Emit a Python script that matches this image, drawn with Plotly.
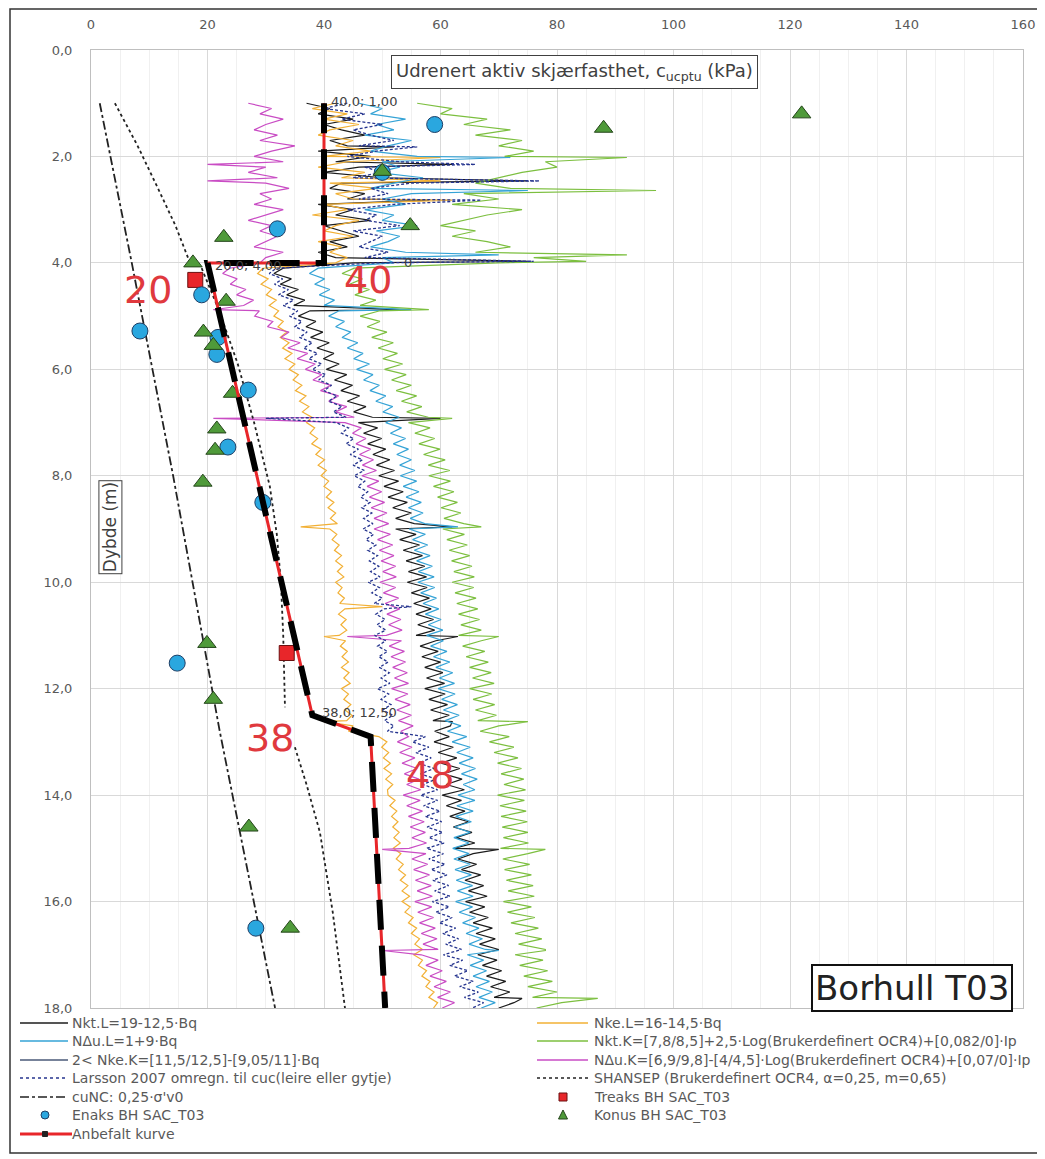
import plotly.graph_objects as go

# ---------------- data ----------------
DEPTH = [round(1.0 + 0.1 * i, 2) for i in range(171)]  # 1.0 .. 18.0 m

# Nkt.L (black)
nkt_l = ([37,41,39,45,40,43,47,41,44,39,48,42,46,40,50,43,41,47,44,39,45,42,48,40,43,46,41,44,39,42,45]
         + [33.0,31.4,34.4,32.5,35.6,33.6,36.7,34.8,37.6]
         + [35.6,38.6,36.9,39.8,37.7,40.9,38.8,41.7,39.9,42.6]
         + [40.4,43.9,41.8,44.9,42.9,46.1,44.0,47.2,45.1,48.3]
         + [45.9,49.2,46.8,49.9,47.5,50.6,48.4,51.3,49.0,52.1]
         + [49.4,52.8,50.3,53.6,51.0,54.3,51.8,55.0,52.3,55.5]
         + [52.3,55.8,53.0,56.4,53.6,56.9,54.1,57.3,54.5,57.6]
         + [54.3,57.7,55.0,58.1,55.4,58.4,55.8,58.8,56.1,59.0]
         + [55.8,59.2,56.5,59.6,56.8,60.0,57.3,60.4,57.6,60.7]
         + [57.3,60.8,58.0,61.2,58.3,61.5,58.7,61.7,59.0]
         + [61.5,58.9,62.2,59.6,62.8,60.1,63.3,60.5,63.7,61.0,64.1]
         + [60.3,63.6,61.0,64.2,61.6,64.8,62.2,65.4,62.7,65.9]
         + [62.3,65.6,63.0,66.2,63.6,66.9,64.2,67.4,64.8,68.0]
         + [64.3,67.6,65.0,68.2,65.6,68.9,66.1,69.4,66.7,70.0]
         + [66.4,69.7,67.2,70.5,67.9,71.2,68.6,71.9,69.2,72.6,70.0])

# Nke.L (orange)
nke_l = ([42,38,44,40,46,41,39,45,42,48,40,44,39,47,43,41,49,42,45,40,44,38,46,42,40,45,39,43,41,44,42]
         + [29.5,28.6,30.4,29.2,31.0,30.1,31.8,30.6,32.2]
         + [31.4,33.0,32.1,33.6,32.5,34.0,32.9,34.5,33.3,35.0]
         + [34.0,35.6,34.7,36.2,35.1,36.9,35.8,37.4,36.3,37.9]
         + [37.0,38.4,37.6,38.9,37.9,39.5,38.6,40.1,39.0,40.4]
         + [39.5,40.8,40.0,41.3,40.4,41.7,40.7,42.0,41.1,42.3]
         + [41.0,42.2,41.4,42.6,41.8,43.0,42.0,43.2,42.3,43.4]
         + [42.0,43.1,42.4,43.5,42.7,43.6,42.5,43.8,42.9,43.9]
         + [42.6,43.7,42.8,44.0,43.1,44.2,43.0,44.3,43.4,44.5]
         + [43.0,44.2,43.4,44.6,43.6,44.8,43.9,45.0,44.2]
         + [49.4,50.8,49.9,51.1,50.2,51.4,50.3,51.6,50.6,51.8,50.9]
         + [51.0,52.2,51.3,52.5,51.6,52.7,51.8,52.9,52.0,53.1]
         + [51.9,53.2,52.4,53.6,52.8,54.0,53.1,54.4,53.4,54.7]
         + [53.4,54.8,53.9,55.3,54.5,55.9,55.0,56.4,55.6,56.9]
         + [55.4,56.9,56.2,57.6,56.8,58.2,57.5,58.9,58.0,59.5,58.8])

# NΔu.L (light blue)
ndu_l = ([46,50,48,54,49,52,47,55,51,48,56,50,53,49,57,52,48,55,50,54,47,52,50,56,49,53,51,48,54,50,52]
         + [39.0,37.5,40.1,38.4,41.0,39.2,41.8,40.0,42.6]
         + [40.8,43.5,42.0,44.6,43.1,45.8,44.0,46.7,45.1,47.8]
         + [45.6,48.4,46.8,49.5,47.9,50.6,48.9,51.8,50.1,52.9]
         + [50.6,53.3,51.4,54.0,51.9,54.5,52.5,55.0,53.0,55.6]
         + [53.1,55.9,53.6,56.3,54.1,56.7,54.5,57.0,54.8,57.3]
         + [54.6,57.4,55.2,57.8,55.5,58.2,55.9,58.6,56.2,58.9]
         + [56.1,59.0,56.6,59.3,57.0,59.7,57.4,60.1,57.9,60.4]
         + [57.6,60.5,58.3,61.1,58.8,61.6,59.2,62.1,59.8,62.4]
         + [59.6,62.5,60.2,62.9,60.5,63.2,60.8,63.5,61.2]
         + [64.5,62.0,65.1,62.8,65.6,63.2,66.0,63.6,66.3,63.9,65.9]
         + [63.0,65.9,62.8,65.6,62.6,65.3,62.4,65.1,62.3,64.9]
         + [62.1,64.9,62.3,65.1,62.5,65.3,62.7,65.5,62.9,65.6]
         + [62.6,65.5,63.2,66.0,63.8,66.6,64.4,67.2,64.9,67.7]
         + [64.6,67.4,65.1,67.9,65.6,68.4,66.1,68.9,66.6,69.4,67.0])

# Nkt.K (green)
nkt_k = ([56,62,60,68,64,72,66,74,70,76,71,78,80,74,70,66,72,64,70,62,74,68,64,60,66,62,68,72,66,76,70]
         + [45.2,43.1,46.6,44.4,47.8,45.3,48.9,46.2,49.6]
         + [46.2,49.6,47.4,50.8,48.2,51.9,49.3,52.6,50.1,53.5]
         + [50.4,54.1,51.6,55.0,52.4,55.9,53.3,56.8,54.2,57.9]
         + [54.5,58.2,55.6,59.0,56.3,59.9,57.1,60.8,57.9,61.6]
         + [58.0,61.7,58.8,62.3,59.5,62.9,60.1,63.5,60.6,64.0]
         + [60.4,64.1,61.1,64.6,61.5,65.0,61.9,65.4,62.3,65.8]
         + [62.0,65.7,62.5,66.1,62.8,66.4,63.1,66.7,63.5,67.0]
         + [63.1,67.0,63.8,67.6,64.4,68.2,65.0,68.7,65.5,69.2]
         + [65.0,68.8,65.6,69.3,66.0,69.6,66.4,70.0,66.8]
         + [71.8,68.4,72.6,69.2,73.3,69.8,73.9,70.4,74.3,70.9,74.6]
         + [69.8,74.4,70.2,74.7,70.4,74.9,70.6,75.0,70.8,75.1]
         + [70.3,75.0,70.7,75.3,71.0,75.6,71.3,75.9,71.6,76.1]
         + [70.8,75.6,71.5,76.2,72.1,76.8,72.8,77.4,73.4,78.0]
         + [72.8,77.6,73.6,78.4,74.3,79.2,75.0,80.0,75.8,80.8,76.5])

# NΔu.K (magenta)
ndu_k = ([27,31,29,33,30,28,32,29,35,31,28,33,30,27,32,30,34,29,31,28,33,30,27,31,29,32,30,28,33,30,29]
         + [23.8,22.6,25.1,23.9,26.6,25.0,27.9,26.2,28.9]
         + [28.1,31.2,30.3,34.0,32.6,35.9,33.8,37.2,35.4,38.5]
         + [36.8,39.6,38.1,41.2,39.4,42.5,40.8,43.9,42.0,45.2]
         + [43.6,46.4,44.9,47.2,45.5,48.0,46.1,48.5,46.6,49.0]
         + [46.5,49.4,47.4,49.9,47.8,50.4,48.1,50.8,48.6,51.1]
         + [48.6,51.4,49.2,51.8,49.5,52.0,49.8,52.3,50.1,52.4]
         + [49.6,52.3,50.2,52.8,50.5,53.0,50.8,53.2,51.1,53.4]
         + [50.7,53.3,51.2,53.8,51.5,54.0,51.8,54.3,52.1,54.5]
         + [51.6,54.4,52.2,54.8,52.5,55.0,52.8,55.3,53.2]
         + [54.5,52.6,55.1,53.0,55.6,53.4,56.0,53.8,56.3,54.2,56.6]
         + [53.6,56.5,54.2,56.9,54.5,57.2,54.8,57.4,55.1,57.6]
         + [54.6,57.5,55.1,57.8,55.4,58.1,55.7,58.4,56.0,58.6]
         + [55.6,58.5,56.1,58.8,56.4,59.1,56.7,59.4,57.0,59.6]
         + [56.7,59.6,57.5,60.3,58.2,61.0,58.9,61.7,59.5,62.4,60.3])

# Larsson 2007 (dark blue dashed)
larsson = ([44,40,47,43,50,45,48,52,46,49,44,53,47,50,45,55,48,51,46,52,44,49,47,53,45,50,48,46,51,47,49]
           + [31.8,30.6,32.9,31.5,33.9,32.2,34.8,33.0,35.5]
           + [34.1,36.2,35.0,37.1,35.8,38.0,36.5,38.9,37.4,39.6]
           + [38.0,40.3,39.1,41.3,40.0,42.2,40.8,43.1,41.6,43.8]
           + [42.1,44.2,43.0,45.1,43.8,45.9,44.5,46.6,45.0,46.9]
           + [45.2,47.0,45.8,47.5,46.3,47.9,46.5,48.2,46.8,48.4]
           + [46.7,48.5,47.2,48.9,47.5,49.2,47.8,49.4,48.0,49.6]
           + [47.6,49.5,48.2,50.0,48.6,50.3,48.9,50.5,49.1,50.6]
           + [48.7,50.6,49.2,50.9,49.4,51.0,49.5,51.2,49.8,51.3]
           + [49.2,51.1,49.8,51.5,50.1,51.8,50.4,52.0,50.9]
           + [57.4,55.2,58.0,55.8,58.4,56.2,58.9,56.6,59.2,57.0,59.5]
           + [56.6,59.5,57.1,59.9,57.4,60.2,57.7,60.4,58.0,60.6]
           + [57.6,60.5,58.0,60.8,58.4,61.1,58.7,61.4,59.0,61.6]
           + [58.6,61.5,59.2,62.0,59.8,62.6,60.4,63.1,60.9,63.6]
           + [60.5,63.8,61.6,64.7,62.4,65.6,63.3,66.5,64.1,67.4,65.5])

# short horizontal excursions (rod breaks) at these depths
SPIKE_DEPTH = [1.82, 2.02, 2.15, 2.46, 2.64, 2.82, 3.85, 3.97, 4.88, 6.92, 8.96, 10.46, 11.02, 12.62, 15.02, 16.92, 17.82]
spk_nkt_l = [52, None, 62, 75, None, 58, None, 75, 53, 60, 62, None, 63, 62, 70, None, 74]
spk_nke_l = [None, 60, None, 60, None, 62, None, None, None, None, 36, 50, 40, 40, None, None, None]
spk_ndu_l = [None, 72, None, None, 75, None, 70, None, 55, None, 63, None, None, None, None, 70, None]
spk_nkt_k = [None, 92, None, None, 97, None, 92, 85, 58, 62, 67, None, 70, 75, 78, 78, 87]
spk_ndu_k = [None, None, 20, 20, None, None, None, None, 21, 21, None, None, 44, None, 50, 50, None]
spk_larsson = [56, None, 66, 77, None, 67, None, 76, None, 30, None, 55, None, None, None, None, None]

# SHANSEP (three layers, gaps between)
shansep_cu = [4.1, 8.0, 11.5, 14.5, 17.0, None, 19.0, 22.0, 25.2, 28.0, 30.7, 31.9, 32.6, 33.0, 33.3, None, 35.0, 37.0, 39.3, 41.5, 43.6]
shansep_z = [1.0, 1.8, 2.6, 3.3, 4.0, None, 4.1, 4.9, 5.9, 7.0, 8.2, 9.1, 10.0, 11.0, 12.35, None, 13.1, 13.8, 14.7, 16.2, 18.0]

# cuNC = 0.25 sigma'v0
cunc_cu = [1.5, 7.0, 14.1, 22.1, 31.6]
cunc_z = [1.0, 4.0, 8.0, 12.8, 18.0]

# lab / cone tests
treaks_cu = [17.9, 33.6]
treaks_z = [4.32, 11.33]
enaks_cu = [59.0, 50.0, 32.0, 19.0, 8.4, 21.8, 21.6, 27.0, 23.5, 29.5, 14.8, 28.3]
enaks_z = [1.40, 2.30, 3.36, 4.60, 5.28, 5.40, 5.72, 6.39, 7.46, 8.50, 11.52, 16.50]
konus_cu = [122.0, 88.0, 50.0, 54.8, 22.8, 17.5, 23.2, 19.3, 21.0, 24.3, 21.6, 21.3, 19.2, 19.9, 21.0, 27.1, 34.2]
konus_z = [1.20, 1.47, 2.28, 3.30, 3.52, 4.00, 4.72, 5.30, 5.55, 6.45, 7.12, 7.52, 8.12, 11.15, 12.20, 14.60, 16.50]

# recommended curve
anb_cu = [40.0, 40.0, 20.0, 38.0, 48.0, 50.5]
anb_z = [1.00, 4.00, 4.00, 12.50, 12.90, 18.00]

X_TICKS = [0, 20, 40, 60, 80, 100, 120, 140, 160]
Y_TICKS = [0, 2, 4, 6, 8, 10, 12, 14, 16, 18]

# legend labels (two columns, as in the reference)
LEG_LEFT = ["Nkt.L=19-12,5·Bq", "NΔu.L=1+9·Bq", "2< Nke.K=[11,5/12,5]-[9,05/11]·Bq",
            "Larsson 2007 omregn. til cuc(leire eller gytje)", "cuNC: 0,25·σ'v0",
            "Enaks BH SAC_T03", "Anbefalt kurve"]
LEG_RIGHT = ["Nke.L=16-14,5·Bq", "Nkt.K=[7,8/8,5]+2,5·Log(Brukerdefinert OCR4)+[0,082/0]·Ip",
             "NΔu.K=[6,9/9,8]-[4/4,5]·Log(Brukerdefinert OCR4)+[0,07/0]·Ip",
             "SHANSEP (Brukerdefinert OCR4, α=0,25, m=0,65)", "Treaks BH SAC_T03", "Konus BH SAC_T03"]

# ---------------- build ----------------
for arr in (nkt_l, nke_l, ndu_l, nkt_k, ndu_k, larsson):
    assert len(arr) == len(DEPTH), len(arr)


def with_spikes(base, spikes):
    pts = list(zip(DEPTH, base))
    for d, v in zip(SPIKE_DEPTH, spikes):
        if v is not None:
            pts.append((d, v))
    pts.sort()
    return [p[1] for p in pts], [p[0] for p in pts]


FONT = "DejaVu Sans"
GREY = "#595959"

C_BLACK, C_ORANGE, C_CYAN = "#1c1c1c", "#f2b035", "#35a3d6"
C_GREEN, C_MAG, C_NAVY, C_NKE2 = "#7cbf3f", "#c94cc4", "#26358f", "#4a5a78"
C_RED = "#e8262a"

fig = go.Figure()


def line_trace(name, base, spikes, color, dash="solid", width=1.2):
    x, y = with_spikes(base, spikes)
    fig.add_trace(go.Scatter(x=x, y=y, mode="lines", name=name,
                             line=dict(color=color, width=width, dash=dash)))


line_trace(LEG_LEFT[0], nkt_l, spk_nkt_l, C_BLACK)
line_trace(LEG_RIGHT[0], nke_l, spk_nke_l, C_ORANGE)
line_trace(LEG_LEFT[1], ndu_l, spk_ndu_l, C_CYAN)
line_trace(LEG_RIGHT[1], nkt_k, spk_nkt_k, C_GREEN)
line_trace(LEG_RIGHT[2], ndu_k, spk_ndu_k, C_MAG)
line_trace(LEG_LEFT[3], larsson, spk_larsson, C_NAVY, dash="3px,2px", width=1.3)
fig.add_trace(go.Scatter(x=shansep_cu, y=shansep_z, mode="lines", connectgaps=False, name=LEG_RIGHT[3],
                         line=dict(color="#222222", width=1.8, dash="dot")))
fig.add_trace(go.Scatter(x=cunc_cu, y=cunc_z, mode="lines", name=LEG_LEFT[4],
                         line=dict(color="#222222", width=1.8, dash="dashdot")))
fig.add_trace(go.Scatter(x=treaks_cu, y=treaks_z, mode="markers", name=LEG_RIGHT[4],
                         marker=dict(symbol="square", size=15, color=C_RED,
                                     line=dict(color="#6b1010", width=1))))
fig.add_trace(go.Scatter(x=enaks_cu, y=enaks_z, mode="markers", name=LEG_LEFT[5],
                         marker=dict(symbol="circle", size=16, color="#2aa7df",
                                     line=dict(color="#1f3f66", width=1))))
fig.add_trace(go.Scatter(x=konus_cu, y=konus_z, mode="markers", name=LEG_RIGHT[5],
                         marker=dict(symbol="triangle-up", size=16, color="#4f9a3a",
                                     line=dict(color="#24451a", width=1))))
fig.add_trace(go.Scatter(x=anb_cu, y=anb_z, mode="lines", name=LEG_LEFT[6],
                         line=dict(color=C_RED, width=3)))
fig.add_trace(go.Scatter(x=anb_cu, y=anb_z, mode="lines", hoverinfo="skip",
                         line=dict(color="#000000", width=6, dash="30px,16px")))

# page is offset by the 8px html body margin: work in reference page pixels
OFF = 8
W, H = 1045 - OFF, 1159 - OFF
PL, PR, PT, PB = 91, 1023, 50, 1008          # plot area in page pixels
L, T = PL - OFF, PT - OFF
R, B = W - (PR - OFF), H - (PB - OFF)
pw, ph = PR - PL, PB - PT


def px_x(px):
    return (px - PL) / pw


def px_y(py):
    return (PB - py) / ph


annotations = []
# data labels on the recommended curve
for txt, x, y in [("40,0; 1,00", 40.8, 0.97), ("20,0; 4,00", 21.0, 4.05),
                  ("38,0; 12,50", 39.3, 12.45), ("0", 53.4, 4.0)]:
    annotations.append(dict(x=x, y=y, text=txt, showarrow=False, xanchor="left",
                            font=dict(family=FONT, size=13, color="#404040")))
# big red layer values
for txt, x, y in [("20", 9.8, 4.5), ("40", 47.6, 4.32), ("38", 30.7, 12.93), ("48", 58.2, 13.63)]:
    annotations.append(dict(x=x, y=y, text=txt, showarrow=False,
                            font=dict(family=FONT, size=38, color="#e0393e")))
annotations.append(dict(x=83.0, y=0.41, text="Udrenert aktiv skjærfasthet, c<sub>ucptu</sub> (kPa)",
                        showarrow=False, bgcolor="white", bordercolor="#404040", borderwidth=1,
                        borderpad=4, font=dict(family=FONT, size=18, color="#404040")))
annotations.append(dict(x=3.4, y=8.97, text="Dybde (m)", textangle=-90, showarrow=False,
                        bgcolor="white", bordercolor="#404040", borderwidth=1, borderpad=1,
                        font=dict(family=FONT, size=17, color="#404040")))
annotations.append(dict(x=141.0, y=17.62, text="Borhull T03", showarrow=False,
                        bgcolor="white", bordercolor="#111111", borderwidth=2, borderpad=2,
                        font=dict(family=FONT, size=34, color="#222222")))

# ---- legend drawn below the plot (text as annotations, samples as shapes) ----
ROWS = [1023, 1041, 1060, 1078, 1097, 1115, 1134]
LX_TEXT, RX_TEXT = 70, 592
LX0, LX1, RX0, RX1 = 20, 68, 537, 588
shapes = [dict(type="rect", xref="paper", yref="paper",
               x0=px_x(10), x1=px_x(1043), y0=px_y(1153), y1=px_y(9),
               line=dict(color="#333333", width=1.5), layer="below")]

for i, txt in enumerate(LEG_LEFT):
    annotations.append(dict(xref="paper", yref="paper", x=px_x(LX_TEXT), y=px_y(ROWS[i]),
                            text=txt, showarrow=False, xanchor="left", yanchor="middle",
                            font=dict(family=FONT, size=14, color=GREY)))
for i, txt in enumerate(LEG_RIGHT):
    annotations.append(dict(xref="paper", yref="paper", x=px_x(RX_TEXT), y=px_y(ROWS[i]),
                            text=txt, showarrow=False, xanchor="left", yanchor="middle",
                            font=dict(family=FONT, size=14, color=GREY)))


def leg_line(x0, x1, row, color, width=1.5, dash="solid"):
    shapes.append(dict(type="line", xref="paper", yref="paper", x0=px_x(x0), x1=px_x(x1),
                       y0=px_y(row), y1=px_y(row), line=dict(color=color, width=width, dash=dash)))


leg_line(LX0, LX1, ROWS[0], C_BLACK)
leg_line(LX0, LX1, ROWS[1], C_CYAN)
leg_line(LX0, LX1, ROWS[2], C_NKE2)
leg_line(LX0, LX1, ROWS[3], C_NAVY, dash="3px,3px")
leg_line(LX0, LX1, ROWS[4], "#222222", dash="dashdot")
leg_line(LX0, LX1 + 4, ROWS[6], C_RED, width=3)
leg_line(RX0, RX1, ROWS[0], C_ORANGE)
leg_line(RX0, RX1, ROWS[1], C_GREEN)
leg_line(RX0, RX1, ROWS[2], C_MAG)
leg_line(RX0, RX1, ROWS[3], "#222222", dash="3px,3px")


def px_box(cx, cy, r):
    return dict(x0=px_x(cx - r), x1=px_x(cx + r), y0=px_y(cy + r), y1=px_y(cy - r))


shapes.append(dict(type="circle", xref="paper", yref="paper", **px_box(45, ROWS[5], 4),
                   fillcolor="#2aa7df", line=dict(color="#1f3f66", width=1)))
shapes.append(dict(type="rect", xref="paper", yref="paper", **px_box(45, ROWS[6], 2.5),
                   fillcolor="#222222", line=dict(color="#222222", width=1)))
shapes.append(dict(type="rect", xref="paper", yref="paper", **px_box(563, ROWS[4], 4),
                   fillcolor=C_RED, line=dict(color="#6b1010", width=1)))
tx, ty = 563, ROWS[5]
shapes.append(dict(type="path", xref="paper", yref="paper",
                   path="M {:.5f},{:.5f} L {:.5f},{:.5f} L {:.5f},{:.5f} Z".format(
                       px_x(tx - 4.5), px_y(ty + 4), px_x(tx + 4.5), px_y(ty + 4), px_x(tx), px_y(ty - 5)),
                   fillcolor="#4f9a3a", line=dict(color="#24451a", width=1)))

fig.update_layout(
    width=W, height=H,
    margin=dict(l=L, r=R, t=T, b=B, autoexpand=False),
    paper_bgcolor="white", plot_bgcolor="white",
    separators=",.",
    font=dict(family=FONT, color=GREY),
    annotations=annotations,
    shapes=shapes,
    showlegend=False,
)
fig.update_xaxes(range=[0, 160], side="top", tickvals=X_TICKS, tickformat="d",
                 showgrid=True, gridcolor="#d9d9d9", gridwidth=1,
                 minor=dict(dtick=5, showgrid=True, gridcolor="#f0f0f0"),
                 showline=True, linecolor="#bfbfbf", mirror=True, zeroline=False,
                 ticks="", ticklabelstandoff=15, tickfont=dict(family=FONT, size=13, color=GREY))
fig.update_yaxes(range=[18, 0], tickvals=Y_TICKS, tickformat=".1f",
                 showgrid=True, gridcolor="#d9d9d9", gridwidth=1,
                 showline=True, linecolor="#bfbfbf", mirror=True, zeroline=False,
                 ticks="", ticklabelstandoff=15, tickfont=dict(family=FONT, size=13, color=GREY))

fig.write_html("out.html")
